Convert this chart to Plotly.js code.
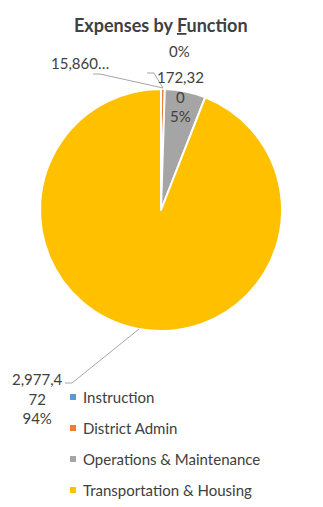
<!DOCTYPE html>
<html><head><meta charset="utf-8">
<script src="https://cdn.plot.ly/plotly-3.0.1.min.js"></script>
<style>html,body{margin:0;padding:0;background:#fff;}#chart{width:323px;height:507px;}</style>
</head><body><div id="chart"></div>
<script>
const categories = ["Instruction", "District Admin", "Operations & Maintenance", "Transportation & Housing"];
const values = [0, 15860, 172320, 2977472];
const colors = ["#5B9BD5", "#ED7D31", "#A5A5A5", "#FFC000"];
const dataLabels = ["0%", "15,860…", "172,32<br>0<br>5%", "2,977,4<br>72<br>94%"];

const W = 323, H = 507;
const px = x => x / W, py = y => 1 - y / H;
const FONT = "Lato, 'Open Sans', sans-serif";
const txt = "#404040";

const trace = {
  type: "pie",
  labels: categories,
  values: values,
  sort: false,
  direction: "clockwise",
  rotation: 0,
  textinfo: "none",
  hoverinfo: "label+value+percent",
  marker: { colors: colors, line: { color: "#ffffff", width: 2 } },
  domain: { x: [px(40), px(282)], y: [py(331), py(89)] },
  showlegend: false
};

const annotations = [
  { text: dataLabels[0], x: px(179), y: py(51), xanchor: "center", yanchor: "middle" },
  { text: dataLabels[1], x: px(111), y: py(63), xanchor: "right", yanchor: "middle" },
  { text: dataLabels[2], x: px(180), y: py(97), xanchor: "center", yanchor: "middle" },
  { text: dataLabels[3], x: px(37), y: py(398), xanchor: "center", yanchor: "middle" }
].map(a => Object.assign(a, { xref: "paper", yref: "paper", showarrow: false,
  font: { family: FONT, size: 15, color: txt }, align: "center" }));

annotations.push({
  text: "Expenses by <u>F</u>unction", xref: "paper", yref: "paper", x: px(161), y: py(25),
  xanchor: "center", yanchor: "middle", showarrow: false,
  font: { family: FONT, size: 18, color: "#404040", weight: "bold" }
});

const shapes = [
  { type: "path", path: `M ${px(93)} ${py(74)} L ${px(100)} ${py(74)} L ${px(163)} ${py(88)}` },
  { type: "path", path: `M ${px(147)} ${py(73)} L ${px(154)} ${py(73)} L ${px(163)} ${py(88)}` },
  { type: "path", path: `M ${px(65)} ${py(383)} L ${px(72)} ${py(383)} L ${px(139)} ${py(329)}` }
].map(s => Object.assign(s, { xref: "paper", yref: "paper", line: { color: "#A6A6A6", width: 1 } }));

// legend
categories.forEach((c, i) => {
  const yc = 397 + i * 31;
  shapes.push({ type: "rect", xref: "paper", yref: "paper",
    x0: px(70), x1: px(76), y0: py(yc + 3), y1: py(yc - 3),
    fillcolor: colors[i], line: { width: 0 } });
  annotations.push({ text: c, xref: "paper", yref: "paper", x: px(81), y: py(yc),
    xanchor: "left", yanchor: "middle", showarrow: false,
    font: { family: FONT, size: 15, color: txt } });
});

const layout = {
  width: W, height: H,
  margin: { l: 0, r: 0, t: 0, b: 0 },
  paper_bgcolor: "#ffffff",
  showlegend: false,
  annotations: annotations,
  shapes: shapes
};
Plotly.newPlot("chart", [trace], layout, { displayModeBar: false, staticPlot: true });
</script></body></html>
